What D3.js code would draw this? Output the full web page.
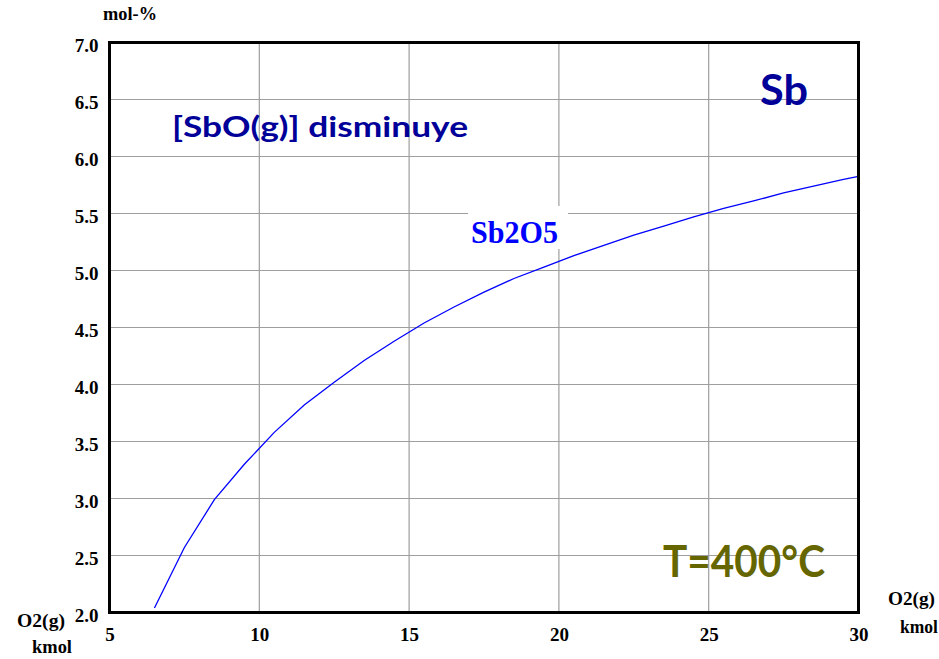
<!DOCTYPE html>
<html><head><meta charset="utf-8">
<script src="https://cdn.jsdelivr.net/npm/d3@7"></script>
<style>html,body{margin:0;padding:0;background:#fff;}svg{display:block;}</style>
</head><body>
<svg id="c" width="939" height="659"></svg>
<script>
const o2kmol = [6.5,7.5,8.5,9.5,10.5,11.5,12.5,13.5,14.5,15.5,16.5,17.5,18.5,19.5,20.5,21.5,22.5,23.5,24.5,25.5,26.5,27.5,28.5,29.5,30];
const sb2o5 = [2.04,2.57,2.99,3.30,3.58,3.82,4.02,4.21,4.38,4.54,4.68,4.81,4.93,5.03,5.13,5.22,5.31,5.39,5.47,5.545,5.61,5.68,5.74,5.80,5.825];
const xTicks = [5,10,15,20,25,30];
const yTicks = [2.0,2.5,3.0,3.5,4.0,4.5,5.0,5.5,6.0,6.5,7.0];

const svg = d3.select("#c");
const x = d3.scaleLinear().domain([5,30]).range([109.5,858.5]);
const y = d3.scaleLinear().domain([2,7]).range([612.5,42.5]);
const serif = "'Liberation Serif','Times New Roman',serif";
const sans = "Lato,'DejaVu Sans',sans-serif";

// grid
const g = svg.append("g");
g.selectAll("line.v").data(xTicks.slice(1,-1)).enter().append("line")
  .attr("x1",d=>x(d)).attr("x2",d=>x(d)).attr("y1",y(7)).attr("y2",y(2))
  .attr("stroke","#9e9e9e").attr("stroke-width",1.2);
g.selectAll("line.h").data(yTicks.slice(1,-1)).enter().append("line")
  .attr("x1",x(5)).attr("x2",x(30)).attr("y1",d=>y(d)).attr("y2",d=>y(d))
  .attr("stroke","#9e9e9e").attr("stroke-width",1.2);

// curve
svg.append("path").datum(o2kmol.map((v,i)=>[v,sb2o5[i]]))
  .attr("d", d3.line().x(d=>x(d[0])).y(d=>y(d[1])))
  .attr("fill","none").attr("stroke","#0000ff").attr("stroke-width",1.3);

// label box for Sb2O5
svg.append("rect").attr("x",468).attr("y",206).attr("width",100).attr("height",43).attr("fill","#fff");
svg.append("text").attr("x",471).attr("y",243).text("Sb2O5")
  .attr("font-family",serif).attr("font-weight","bold").attr("font-size",31).attr("fill","#0000ff")
  .attr("textLength",87).attr("lengthAdjust","spacingAndGlyphs");

// frame
svg.append("rect").attr("x",x(5)).attr("y",y(7)).attr("width",x(30)-x(5)).attr("height",y(2)-y(7))
  .attr("fill","none").attr("stroke","#000").attr("stroke-width",3);

// y axis
const ya = d3.axisLeft(y).tickValues(yTicks).tickSize(0).tickFormat(d3.format(".1f"));
const yg = svg.append("g").attr("transform",`translate(${x(5)-11},0)`).call(ya);
yg.select(".domain").remove();
yg.selectAll("text").attr("font-family",serif).attr("font-weight","bold").attr("font-size",19)
  .attr("fill","#000").attr("dy","0.45em").attr("x",0);

// x axis
const xa = d3.axisBottom(x).tickValues(xTicks).tickSize(0).tickFormat(d3.format("d"));
const xg = svg.append("g").attr("transform",`translate(0,${y(2)})`).call(xa);
xg.select(".domain").remove();
xg.selectAll("text").attr("font-family",serif).attr("font-weight","bold").attr("font-size",19)
  .attr("fill","#000").attr("dy",0).attr("y",28);

// axis labels
function lab(t,xx,yy,w){svg.append("text").attr("x",xx).attr("y",yy).text(t)
  .attr("font-family",serif).attr("font-weight","bold").attr("font-size",18).attr("fill","#000")
  .attr("textLength",w).attr("lengthAdjust","spacingAndGlyphs");}
lab("mol-%",103,20,54);
lab("O2(g)",17,627,48);
lab("kmol",32,653,40);
lab("O2(g)",888,605,47);
lab("kmol",900,633,38);

// annotations
svg.append("text").attr("x",172).attr("y",137).text("[SbO(g)] disminuye")
  .attr("font-family",sans).attr("font-weight","bold").attr("font-size",28).attr("fill","#000099")
  .attr("textLength",296).attr("lengthAdjust","spacingAndGlyphs");
svg.append("text").attr("x",760).attr("y",105).text("Sb")
  .attr("font-family",sans).attr("font-weight","bold").attr("font-size",42).attr("fill","#000099")
  .attr("textLength",48).attr("lengthAdjust","spacingAndGlyphs");
svg.append("text").attr("x",663).attr("y",577).text("T=400°C")
  .attr("font-family",sans).attr("font-weight","bold").attr("font-size",44).attr("fill","#666600")
  .attr("textLength",162).attr("lengthAdjust","spacingAndGlyphs");
</script>
</body></html>
